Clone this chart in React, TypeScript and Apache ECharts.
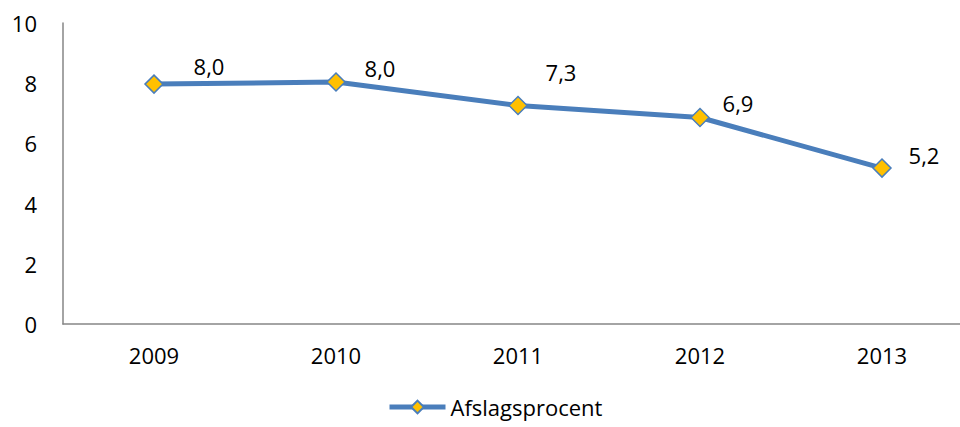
import React, { useEffect, useRef } from "react";
import * as echarts from "echarts";

const categories = ["2009", "2010", "2011", "2012", "2013"];
const values = [7.97, 8.04, 7.26, 6.86, 5.18];
const seriesName = "Afslagsprocent";
const labelOffsets: [number, number][] = [
  [55, -18],
  [44, -14],
  [43, -33],
  [38, -15],
  [42, -13],
];

export default function App() {
  const ref = useRef<HTMLDivElement>(null);
  useEffect(() => {
    if (!ref.current) return;
    const chart = echarts.init(ref.current, undefined, { renderer: "svg" });
    const font = "'Open Sans', 'Liberation Sans', sans-serif";
    chart.setOption({
      animation: false,
      textStyle: { fontFamily: font },
      grid: { left: 63, top: 23, width: 910, height: 301 },
      legend: {
        top: 396,
        left: 382,
        padding: [0, 5, 0, 5],
        data: [seriesName],
        itemWidth: 56,
        itemHeight: 16,
        itemGap: 6,
        lineStyle: { width: 5 },
        textStyle: { fontSize: 22, color: "#000", fontFamily: font },
      },
      xAxis: {
        type: "category",
        data: categories,
        boundaryGap: true,
        axisLine: { lineStyle: { color: "#868686", width: 1.5 } },
        axisTick: { show: false },
        axisLabel: { fontSize: 22, color: "#000", margin: 20, fontFamily: font },
      },
      yAxis: {
        type: "value",
        min: 0,
        max: 10,
        interval: 2,
        axisLine: { show: true, lineStyle: { color: "#868686", width: 1.5 } },
        axisTick: { show: false },
        splitLine: { show: false },
        axisLabel: { fontSize: 22, color: "#000", margin: 26, fontFamily: font },
      },
      series: [
        {
          name: seriesName,
          type: "line",
          data: values.map((v, i) => ({
            value: v,
            label: { offset: labelOffsets[i] },
          })),
          symbol: "diamond",
          symbolSize: 18,
          lineStyle: { color: "#4a7ebb", width: 5 },
          itemStyle: { color: "#ffc000", borderColor: "#4a7ebb", borderWidth: 1.5 },
          label: {
            show: true,
            position: "inside",
            fontSize: 22,
            color: "#000",
            fontFamily: font,
            formatter: (p: any) => p.value.toFixed(1).replace(".", ","),
          },
        },
      ],
    });
    return () => chart.dispose();
  }, []);
  return (
    <div
      style={{
        position: "fixed",
        left: 0,
        top: 0,
        width: 960,
        height: 427,
        overflow: "hidden",
        background: "#fff",
      }}
    >
      <div ref={ref} style={{ width: 990, height: 427 }} />
    </div>
  );
}
